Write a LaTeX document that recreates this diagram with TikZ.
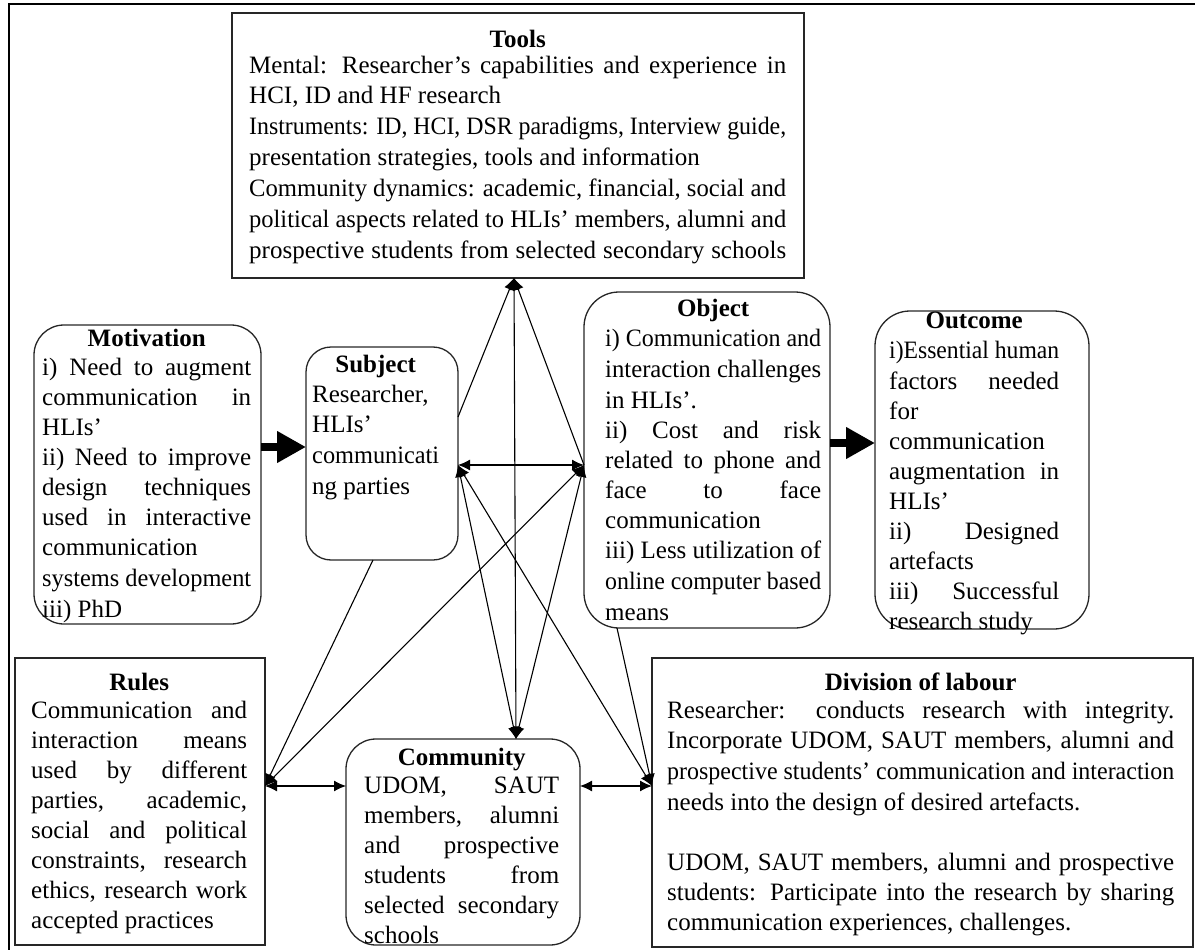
\documentclass[tikz,border=0pt]{standalone}
\usepackage{fontspec}
\setmainfont{Liberation Serif}
\usepackage{graphicx}
\usetikzlibrary{arrows.meta}
\newsavebox\lnbox
\newcommand\Jl[1]{\sbox\lnbox{\strut#1}\ifdim\wd\lnbox>\hsize\hbox{\resizebox{\hsize}{\height}{\usebox\lnbox}}\else\hbox to\hsize{\strut#1}\fi}
\newcommand\Rl[1]{\sbox\lnbox{\strut#1}\ifdim\wd\lnbox>\hsize\hbox{\resizebox{\hsize}{\height}{\usebox\lnbox}}\else\hbox{\usebox\lnbox}\fi}
\newcommand\Tl[1]{\hbox to\hsize{\hfil\strut\bfseries#1\hfil}}
\newcommand\tblock[2]{\vbox{\hsize=#1\relax\baselineskip=30pt\lineskiplimit=0pt #2}}
\tikzset{
  sqbox/.style={draw=black!85, line width=1.3pt, inner sep=0pt, outer sep=0pt},
  rbox/.style={sqbox, rounded corners=#1},
  txt/.style={anchor=north west, inner sep=0pt, font=\fontsize{25}{30}\selectfont},
  conn/.style={line width=1.1pt, black},
  tip/.tip={Latex[length=12pt,width=11pt]},
  fat/.style={line width=8pt, -{Triangle[length=29pt,width=30pt]}},
}
\begin{document}
\begin{tikzpicture}[x=1pt,y=-1pt]
\useasboundingbox (0,0) rectangle (1195,950);
% outer frame
\draw[line width=1.5pt] (9,950) -- (9,4) -- (1195,4);
% boxes
\node[sqbox, minimum width=572pt, minimum height=265pt] (tools) at (518,145.5) {};
\node[rbox=30pt, minimum width=227pt, minimum height=299pt] (motiv) at (147.5,474.5) {};
\node[rbox=25pt, minimum width=152pt, minimum height=213pt] (subj) at (382,453.5) {};
\node[rbox=35pt, minimum width=246pt, minimum height=336pt] (obj) at (707,460) {};
\node[rbox=35pt, minimum width=214pt, minimum height=318pt] (outc) at (982,470) {};
\node[sqbox, minimum width=250pt, minimum height=287pt] (rules) at (140,801.5) {};
\node[rbox=30pt, minimum width=234pt, minimum height=206pt] (comm) at (463,842) {};
\node[sqbox, minimum width=541pt, minimum height=289pt] (div) at (922.5,802.5) {};
% texts
\node[txt] (ttools) at (249,26) {\tblock{537pt}{\Tl{Tools}\vskip-4pt
\Jl{Mental: Researcher’s capabilities and experience in}
\Rl{HCI, ID and HF research}
\Jl{Instruments: ID, HCI, DSR paradigms, Interview guide,}
\Rl{presentation strategies, tools and information}
\Jl{Community dynamics: academic, financial, social and}
\Jl{political aspects related to HLIs’ members, alumni and}
\Jl{prospective students from selected secondary schools}}};
\node[txt] (tmotiv) at (42,325) {\tblock{209pt}{\Tl{Motivation}\vskip-1pt
\Jl{i) Need to augment}
\Jl{communication in}
\Rl{HLIs’}
\Jl{ii) Need to improve}
\Jl{design techniques}
\Jl{used in interactive}
\Rl{communication}
\Jl{systems development}
\Rl{iii) PhD}}};
\node[txt] (tsubj) at (312,351) {\tblock{127pt}{\Tl{Subject}
\Rl{Researcher,}
\Rl{HLIs’}
\Rl{communicati}
\Rl{ng parties}}};
\node[txt] (tobj) at (605,295) {\tblock{216pt}{\Tl{Object}\vskip-1pt
\Jl{i) Communication and}
\Jl{interaction challenges}
\Rl{in HLIs’.}
\Jl{ii) Cost and risk}
\Jl{related to phone and}
\Jl{face to face}
\Rl{communication}
\Jl{iii) Less utilization of}
\Jl{online computer based}
\Rl{means}}};
\node[txt] (toutc) at (889,307) {\tblock{170pt}{\Tl{Outcome}\vskip-1pt
\Jl{i)Essential human}
\Jl{factors needed}
\Rl{for}
\Rl{communication}
\Jl{augmentation in}
\Rl{HLIs’}
\Jl{ii) Designed}
\Rl{artefacts}
\Jl{iii) Successful}
\Rl{research study}}};
\node[txt] (trules) at (31,669) {\tblock{216pt}{\Tl{Rules}\vskip-2pt
\Jl{Communication and}
\Jl{interaction means}
\Jl{used by different}
\Jl{parties, academic,}
\Jl{social and political}
\Jl{constraints, research}
\Jl{ethics, research work}
\Rl{accepted practices}}};
\node[txt] (tcomm) at (364,744) {\tblock{195pt}{\Tl{Community}\vskip-2pt
\Jl{UDOM, SAUT}
\Jl{members, alumni}
\Jl{and prospective}
\Jl{students from}
\Jl{selected secondary}
\Rl{schools}}};
\node[txt] (tdiv) at (667,669) {\tblock{507pt}{\Tl{Division of labour}\vskip-2pt
\Jl{Researcher: conducts research with integrity.}
\Jl{Incorporate UDOM, SAUT members, alumni and}
\Jl{prospective students’ communication and interaction}
\Rl{needs into the design of desired artefacts.}
\Rl{}
\Jl{UDOM, SAUT members, alumni and prospective}
\Jl{students: Participate into the research by sharing}
\Rl{communication experiences, challenges.}}};
% thick arrows
\draw[fat] ([yshift=27.5pt]motiv.east) -- ([yshift=6.5pt]subj.west);
\draw[fat] ([yshift=17pt]obj.east) -- ([yshift=27pt]outc.west);
% thin connectors
\draw[conn, tip-tip] ([xshift=53pt]comm.north) -- ([xshift=-4pt]tools.south);
\draw[conn, -tip] ([yshift=36.5pt]subj.east) -- ([xshift=-4pt]tools.south);
\draw[conn, -tip] ([yshift=-5pt]obj.west) -- ([xshift=-4pt]tools.south);
\draw[conn, tip-tip] ([yshift=-11.5pt]subj.east) -- ([yshift=-5pt]obj.west);
\draw[conn, tip-tip] ([yshift=-11.5pt]subj.east) -- ([xshift=53pt]comm.north);
\draw[conn, tip-tip] ([yshift=-11.5pt]subj.east) -- ([yshift=16.5pt]div.west);
\draw[conn, tip-tip] ([yshift=-5pt]obj.west) -- ([xshift=53pt]comm.north);
\draw[conn, tip-tip] ([yshift=-5pt]obj.west) -- ([yshift=15.5pt]rules.east);
\draw[conn, -tip] ([xshift=-9pt]subj.south) -- ([yshift=15.5pt]rules.east);
\draw[conn, -tip] ([xshift=-90pt]obj.south) -- ([yshift=16.5pt]div.west);
\draw[conn, tip-tip] ([yshift=15.5pt]rules.east) -- ([yshift=56pt]comm.west);
\draw[conn, tip-tip] ([yshift=56pt]comm.east) -- ([yshift=16.5pt]div.west);
\end{tikzpicture}
\end{document}
